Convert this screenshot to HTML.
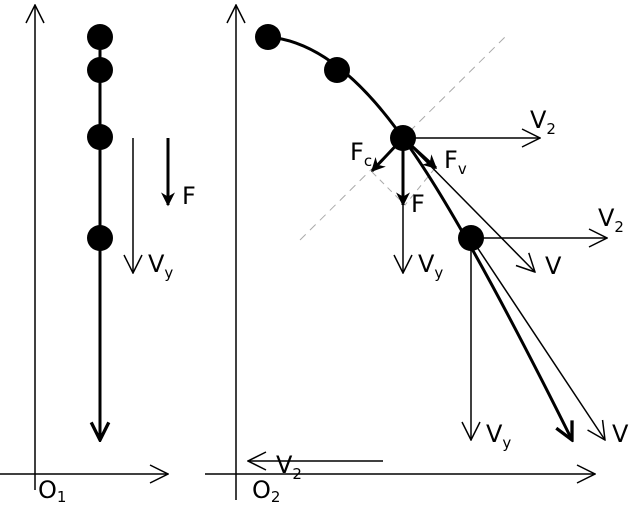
<!DOCTYPE html>
<html><head><style>body{margin:0;background:#fff}svg{display:block}text{font-family:"DejaVu Sans","Liberation Sans",sans-serif;font-size:24px;fill:#000}</style></head><body>
<svg width="640" height="512" viewBox="0 0 640 512">
<defs>
<marker id="a" viewBox="0 0 20 20" refX="19" refY="10" markerWidth="20" markerHeight="20" markerUnits="userSpaceOnUse" orient="auto"><path d="M1,1 L19,10 L1,19" fill="none" stroke="#000" stroke-width="1.5"/></marker>
<marker id="b" viewBox="0 0 20 20" refX="18" refY="10" markerWidth="22" markerHeight="22" markerUnits="userSpaceOnUse" orient="auto"><path d="M2,2 L18,10 L2,18" fill="none" stroke="#000" stroke-width="3"/></marker>
<marker id="c" viewBox="0 0 10 10" refX="9" refY="5" markerWidth="14" markerHeight="14" markerUnits="userSpaceOnUse" orient="auto"><path d="M0,0 L10,5 L0,10 L3,5Z" fill="#000"/></marker>
</defs>
<g stroke="#000" fill="none" stroke-width="1.5">
<line x1="35" y1="490" x2="35" y2="5" marker-end="url(#a)"/>
<line x1="0" y1="474" x2="168" y2="474" marker-end="url(#a)"/>
<line x1="236" y1="500" x2="236" y2="5" marker-end="url(#a)"/>
<line x1="205" y1="474" x2="595" y2="474" marker-end="url(#a)"/>
<line x1="383" y1="461" x2="248" y2="461" marker-end="url(#a)"/>
<line x1="100" y1="37" x2="100" y2="440" stroke-width="3" marker-end="url(#b)"/>
<line x1="168" y1="138" x2="168" y2="205" stroke-width="3" marker-end="url(#c)"/>
<line x1="133" y1="138" x2="133" y2="273" marker-end="url(#a)"/>
<line x1="300" y1="240" x2="505" y2="37" stroke="#aaa" stroke-dasharray="8,6" stroke-width="1"/>
<path d="M372,172 L405,205 L436,167" stroke="#aaa" stroke-dasharray="6,5" stroke-width="1"/>
<path d="M268,37 Q335,42 403,138 Q460,215 572,440" stroke-width="3" marker-end="url(#b)"/>
<line x1="403" y1="138" x2="540" y2="138" marker-end="url(#a)"/>
<line x1="403" y1="138" x2="403" y2="273" marker-end="url(#a)"/>
<line x1="403" y1="138" x2="535" y2="272" marker-end="url(#a)"/>
<line x1="403" y1="138" x2="403" y2="205" stroke-width="3" marker-end="url(#c)"/>
<line x1="403" y1="138" x2="372" y2="171" stroke-width="3" marker-end="url(#c)"/>
<line x1="403" y1="138" x2="436" y2="168" stroke-width="3" marker-end="url(#c)"/>
<line x1="471" y1="238" x2="607" y2="238" marker-end="url(#a)"/>
<line x1="471" y1="238" x2="471" y2="440" marker-end="url(#a)"/>
<line x1="471" y1="238" x2="605" y2="440" marker-end="url(#a)"/>
</g>
<g fill="#000">
<circle cx="100" cy="37" r="13"/><circle cx="100" cy="70" r="13"/><circle cx="100" cy="137" r="13"/><circle cx="100" cy="238" r="13"/>
<circle cx="268" cy="37" r="13"/><circle cx="337" cy="70" r="13"/><circle cx="403" cy="138" r="13"/><circle cx="471" cy="238" r="13"/>
</g>
<text x="38" y="498">O<tspan font-size="15" dy="4">1</tspan></text>
<text x="252" y="498">O<tspan font-size="15" dy="4">2</tspan></text>
<text x="182" y="204">F</text>
<text x="148" y="272">V<tspan font-size="15" dy="6">y</tspan></text>
<text x="276" y="473">V<tspan font-size="15" dy="6">2</tspan></text>
<text x="530" y="128">V<tspan font-size="15" dy="6">2</tspan></text>
<text x="598" y="226">V<tspan font-size="15" dy="6">2</tspan></text>
<text x="350" y="160">F<tspan font-size="15" dy="6">c</tspan></text>
<text x="444" y="168">F<tspan font-size="15" dy="6">v</tspan></text>
<text x="411" y="212">F</text>
<text x="418" y="272">V<tspan font-size="15" dy="6">y</tspan></text>
<text x="545" y="274">V</text>
<text x="486" y="442">V<tspan font-size="15" dy="6">y</tspan></text>
<text x="612" y="442">V</text>
</svg>
</body></html>
